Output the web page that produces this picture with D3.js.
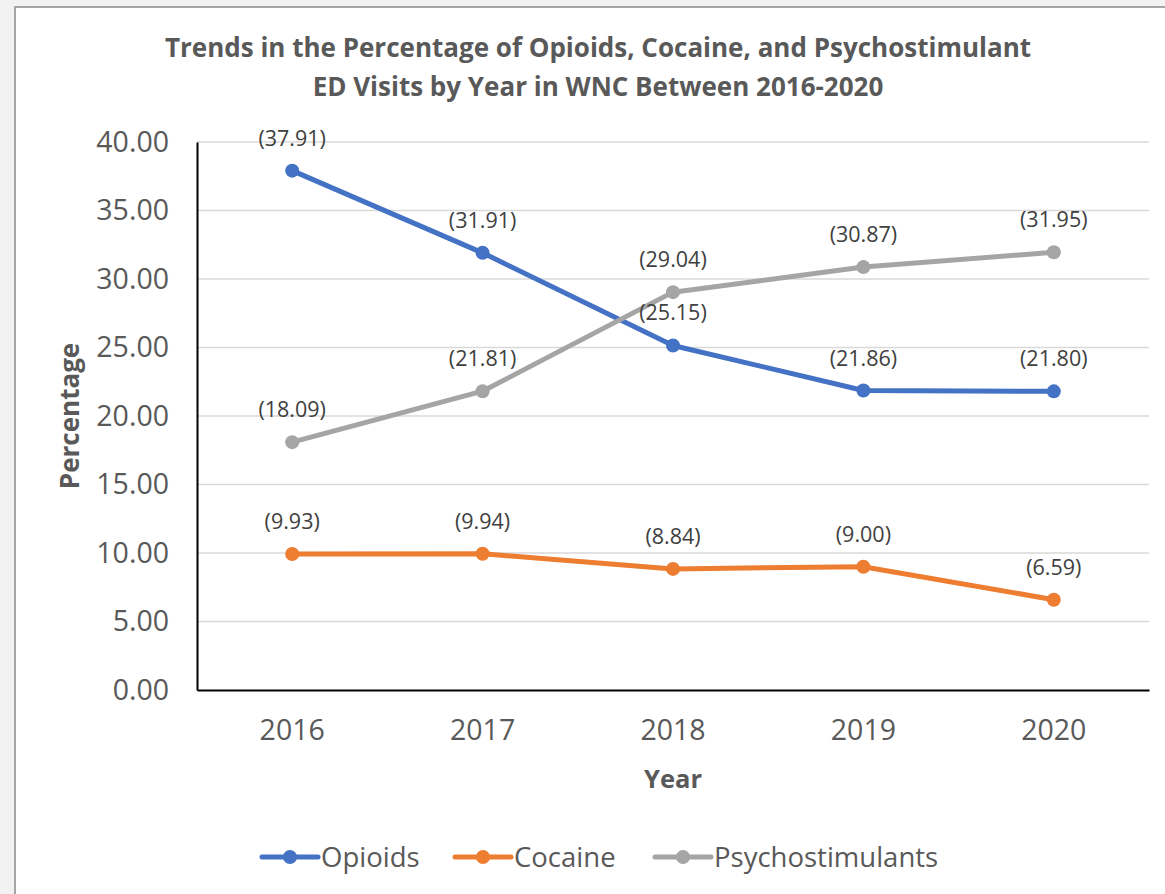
<!doctype html>
<html lang="en">
  <head>
    <meta charset="UTF-8" />
    <title>ED Visits Trends</title>
    <script src="https://d3js.org/d3.v7.min.js"></script>
    <style>
      body,
      html {
        margin: 0;
        padding: 0;
        background: #f2f2f2;
        overflow: hidden;
      }
      svg {
        display: block;
        font-family: "Open Sans", "Noto Sans", sans-serif;
      }
    </style>
  </head>
  <body>
    <svg id="chart" width="1165" height="894"></svg>
    <script>
      // data
      const years = ["2016", "2017", "2018", "2019", "2020"];
      const opioids = [37.91, 31.91, 25.15, 21.86, 21.8];
      const cocaine = [9.93, 9.94, 8.84, 9.0, 6.59];
      const psychostimulants = [18.09, 21.81, 29.04, 30.87, 31.95];
      const yTicks = [0, 5, 10, 15, 20, 25, 30, 35, 40];

      const series = [
        { name: "Opioids", values: opioids, color: "#4472c4" },
        { name: "Cocaine", values: cocaine, color: "#ed7d31" },
        { name: "Psychostimulants", values: psychostimulants, color: "#a5a5a5" }
      ];

      const svg = d3.select("#chart");
      const textColor = "#595959";

      // chart frame
      svg
        .append("rect")
        .attr("x", 15)
        .attr("y", 7)
        .attr("width", 1165)
        .attr("height", 900)
        .attr("fill", "#fff")
        .attr("stroke", "#a6a6a6")
        .attr("stroke-width", 2);

      const plotLeft = 197,
        plotRight = 1149,
        plotTop = 142,
        plotBottom = 690;

      const x = d3.scaleBand().domain(years).range([plotLeft, plotRight]);
      const y = d3.scaleLinear().domain([0, 40]).range([plotBottom, plotTop]);
      const cx = (yr) => x(yr) + x.bandwidth() / 2;

      // title
      const title = svg
        .append("text")
        .attr("text-anchor", "middle")
        .attr("font-weight", "bold")
        .attr("font-size", 26)
        .attr("fill", textColor);
      title.append("tspan").attr("x", 598).attr("y", 57).text("Trends in the Percentage of Opioids, Cocaine, and Psychostimulant");
      title.append("tspan").attr("x", 598).attr("y", 96).text("ED Visits by Year in WNC Between 2016-2020");

      // gridlines
      svg
        .append("g")
        .selectAll("line")
        .data(yTicks.filter((d) => d > 0))
        .join("line")
        .attr("x1", plotLeft)
        .attr("x2", plotRight)
        .attr("y1", (d) => y(d))
        .attr("y2", (d) => y(d))
        .attr("stroke", "#d9d9d9")
        .attr("stroke-width", 1.5);

      // y axis
      const yAxis = svg
        .append("g")
        .attr("transform", `translate(${plotLeft},0)`)
        .call(
          d3
            .axisLeft(y)
            .tickValues(yTicks)
            .tickSize(0)
            .tickPadding(28)
            .tickFormat(d3.format(".2f"))
        );
      yAxis.select(".domain").attr("stroke", "#000").attr("stroke-width", 2);
      yAxis
        .selectAll("text")
        .attr("font-size", 28.5)
        .attr("fill", textColor)
        .attr("font-family", "Open Sans");

      // x axis
      const xAxis = svg
        .append("g")
        .attr("transform", `translate(0,${plotBottom})`)
        .call(d3.axisBottom(x).tickSize(0).tickPadding(30));
      xAxis.select(".domain").attr("stroke", "#000").attr("stroke-width", 2);
      xAxis
        .selectAll("text")
        .attr("font-size", 28.5)
        .attr("fill", textColor)
        .attr("font-family", "Open Sans");

      // axis titles
      svg
        .append("text")
        .attr("transform", "translate(79,416) rotate(-90)")
        .attr("text-anchor", "middle")
        .attr("font-weight", "bold")
        .attr("font-size", 26)
        .attr("fill", textColor)
        .text("Percentage");

      svg
        .append("text")
        .attr("x", 673)
        .attr("y", 788)
        .attr("text-anchor", "middle")
        .attr("font-weight", "bold")
        .attr("font-size", 25.5)
        .attr("fill", textColor)
        .text("Year");

      // lines and points
      const line = d3
        .line()
        .x((d, i) => cx(years[i]))
        .y((d) => y(d));

      series.forEach((s) => {
        svg
          .append("path")
          .datum(s.values)
          .attr("d", line)
          .attr("fill", "none")
          .attr("stroke", s.color)
          .attr("stroke-width", 5)
          .attr("stroke-linejoin", "round");
        svg
          .append("g")
          .selectAll("circle")
          .data(s.values)
          .join("circle")
          .attr("cx", (d, i) => cx(years[i]))
          .attr("cy", (d) => y(d))
          .attr("r", 7)
          .attr("fill", s.color);
      });

      // data labels
      series.forEach((s) => {
        svg
          .append("g")
          .selectAll("text")
          .data(s.values)
          .join("text")
          .attr("x", (d, i) => cx(years[i]))
          .attr("y", (d) => y(d) - 25)
          .attr("text-anchor", "middle")
          .attr("font-size", 21.5)
          .attr("fill", "#404040")
          .text((d) => `(${d3.format(".2f")(d)})`);
      });

      // legend
      const legendX = [262, 455, 655];
      const legend = svg
        .append("g")
        .selectAll("g")
        .data(series)
        .join("g")
        .attr("transform", (d, i) => `translate(${legendX[i]},857)`);
      legend
        .append("line")
        .attr("x1", 0)
        .attr("x2", 56)
        .attr("stroke", (d) => d.color)
        .attr("stroke-width", 5)
        .attr("stroke-linecap", "round");
      legend
        .append("circle")
        .attr("cx", 28)
        .attr("r", 7)
        .attr("fill", (d) => d.color);
      legend
        .append("text")
        .attr("x", 59)
        .attr("y", 10)
        .attr("font-size", 27.5)
        .attr("fill", textColor)
        .text((d) => d.name);
    </script>
  </body>
</html>
